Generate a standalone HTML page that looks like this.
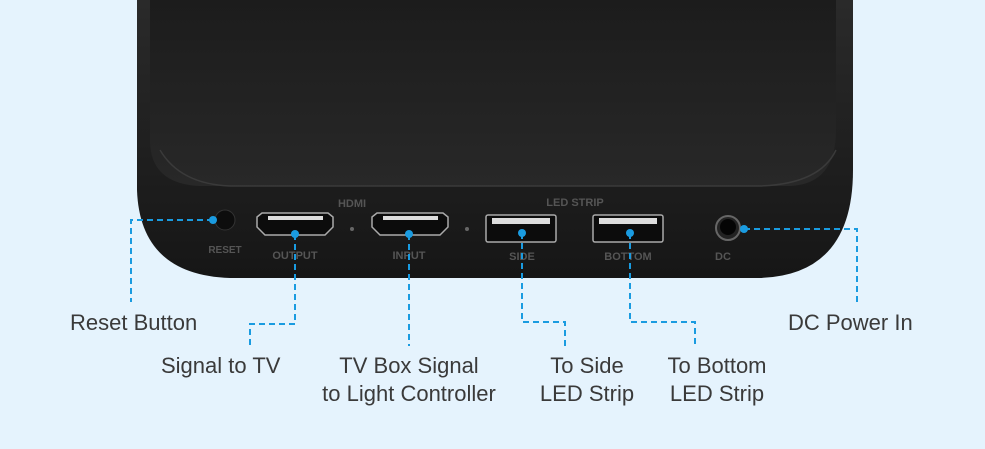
<!DOCTYPE html>
<html><head><style>
body{margin:0;width:985px;height:449px;background:#e5f3fd;overflow:hidden;position:relative;font-family:"Liberation Sans",sans-serif}
.l{position:absolute;color:#3a3a3a;font-size:22px;text-align:center;line-height:28px;white-space:nowrap}
</style></head><body>
<svg width="985" height="449" style="position:absolute;left:0;top:0">
<defs>
<linearGradient id="f" x1="0" y1="0" x2="0" y2="1"><stop offset="0" stop-color="#2a2a2a"/><stop offset="1" stop-color="#161616"/></linearGradient>
<linearGradient id="t" x1="0" y1="0" x2="0" y2="1"><stop offset="0" stop-color="#1c1c1c"/><stop offset="1" stop-color="#282828"/></linearGradient>
</defs>
<path d="M137 0 H853 V170 Q853 275 760 278 H230 Q140 275 137 190 Z" fill="url(#f)"/>
<path d="M150 0 H836 V130 Q836 184 790 186 H200 Q150 184 150 140 Z" fill="url(#t)"/>
<path d="M160 150 Q180 184 230 186 H760 Q820 184 836 150" stroke="#3a3a3a" fill="none" stroke-width="1.5"/>
<g font-family="Liberation Sans" font-weight="bold" fill="#555" font-size="11" text-anchor="middle">
<text x="352" y="207">HDMI</text><text x="575" y="206">LED STRIP</text>
<text x="225" y="253" font-size="10">RESET</text><text x="295" y="259">OUTPUT</text><text x="409" y="259">INPUT</text>
<text x="522" y="260">SIDE</text><text x="628" y="260">BOTTOM</text><text x="723" y="260">DC</text>
</g>
<circle cx="225" cy="220" r="10" fill="#0d0d0d" stroke="#333"/>
<g fill="#0c0c0c" stroke="#aaa" stroke-width="1.5">
<path d="M257 217 L262 213 H328 L333 217 V227 L325 235 H265 L257 227 Z"/>
<path d="M372 217 L377 213 H443 L448 217 V227 L440 235 H380 L372 227 Z"/>
<rect x="486" y="215" width="70" height="27" rx="2"/>
<rect x="593" y="215" width="70" height="27" rx="2"/>
</g>
<rect x="492" y="218" width="58" height="6" fill="#ddd"/><rect x="599" y="218" width="58" height="6" fill="#ddd"/>
<rect x="268" y="216" width="55" height="4" fill="#ddd"/><rect x="383" y="216" width="55" height="4" fill="#ddd"/>
<circle cx="352" cy="229" r="2" fill="#666"/><circle cx="467" cy="229" r="2" fill="#666"/>
<circle cx="728" cy="228" r="12" fill="#222" stroke="#666" stroke-width="2"/><circle cx="728" cy="227" r="8" fill="#050505"/>
<g stroke="#1a9be0" stroke-width="2" stroke-dasharray="6,4" fill="none">
<path d="M213 220 H131 V302"/>
<path d="M295 234 V324 H250 V347"/>
<path d="M409 234 V346"/>
<path d="M522 233 V322 H565 V346"/>
<path d="M630 233 V322 H695 V346"/>
<path d="M744 229 H857 V302"/>
</g>
<g fill="#1a9be0"><circle cx="213" cy="220" r="4"/><circle cx="295" cy="234" r="4"/><circle cx="409" cy="234" r="4"/><circle cx="522" cy="233" r="4"/><circle cx="630" cy="233" r="4"/><circle cx="744" cy="229" r="4"/></g>
</svg>
<div class="l" style="left:70px;top:309px">Reset Button</div>
<div class="l" style="left:161px;top:352px">Signal to TV</div>
<div class="l" style="left:299px;top:352px;width:220px">TV Box Signal<br>to Light Controller</div>
<div class="l" style="left:522px;top:352px;width:130px">To Side<br>LED Strip</div>
<div class="l" style="left:652px;top:352px;width:130px">To Bottom<br>LED Strip</div>
<div class="l" style="left:788px;top:309px">DC Power In</div>
</body></html>
